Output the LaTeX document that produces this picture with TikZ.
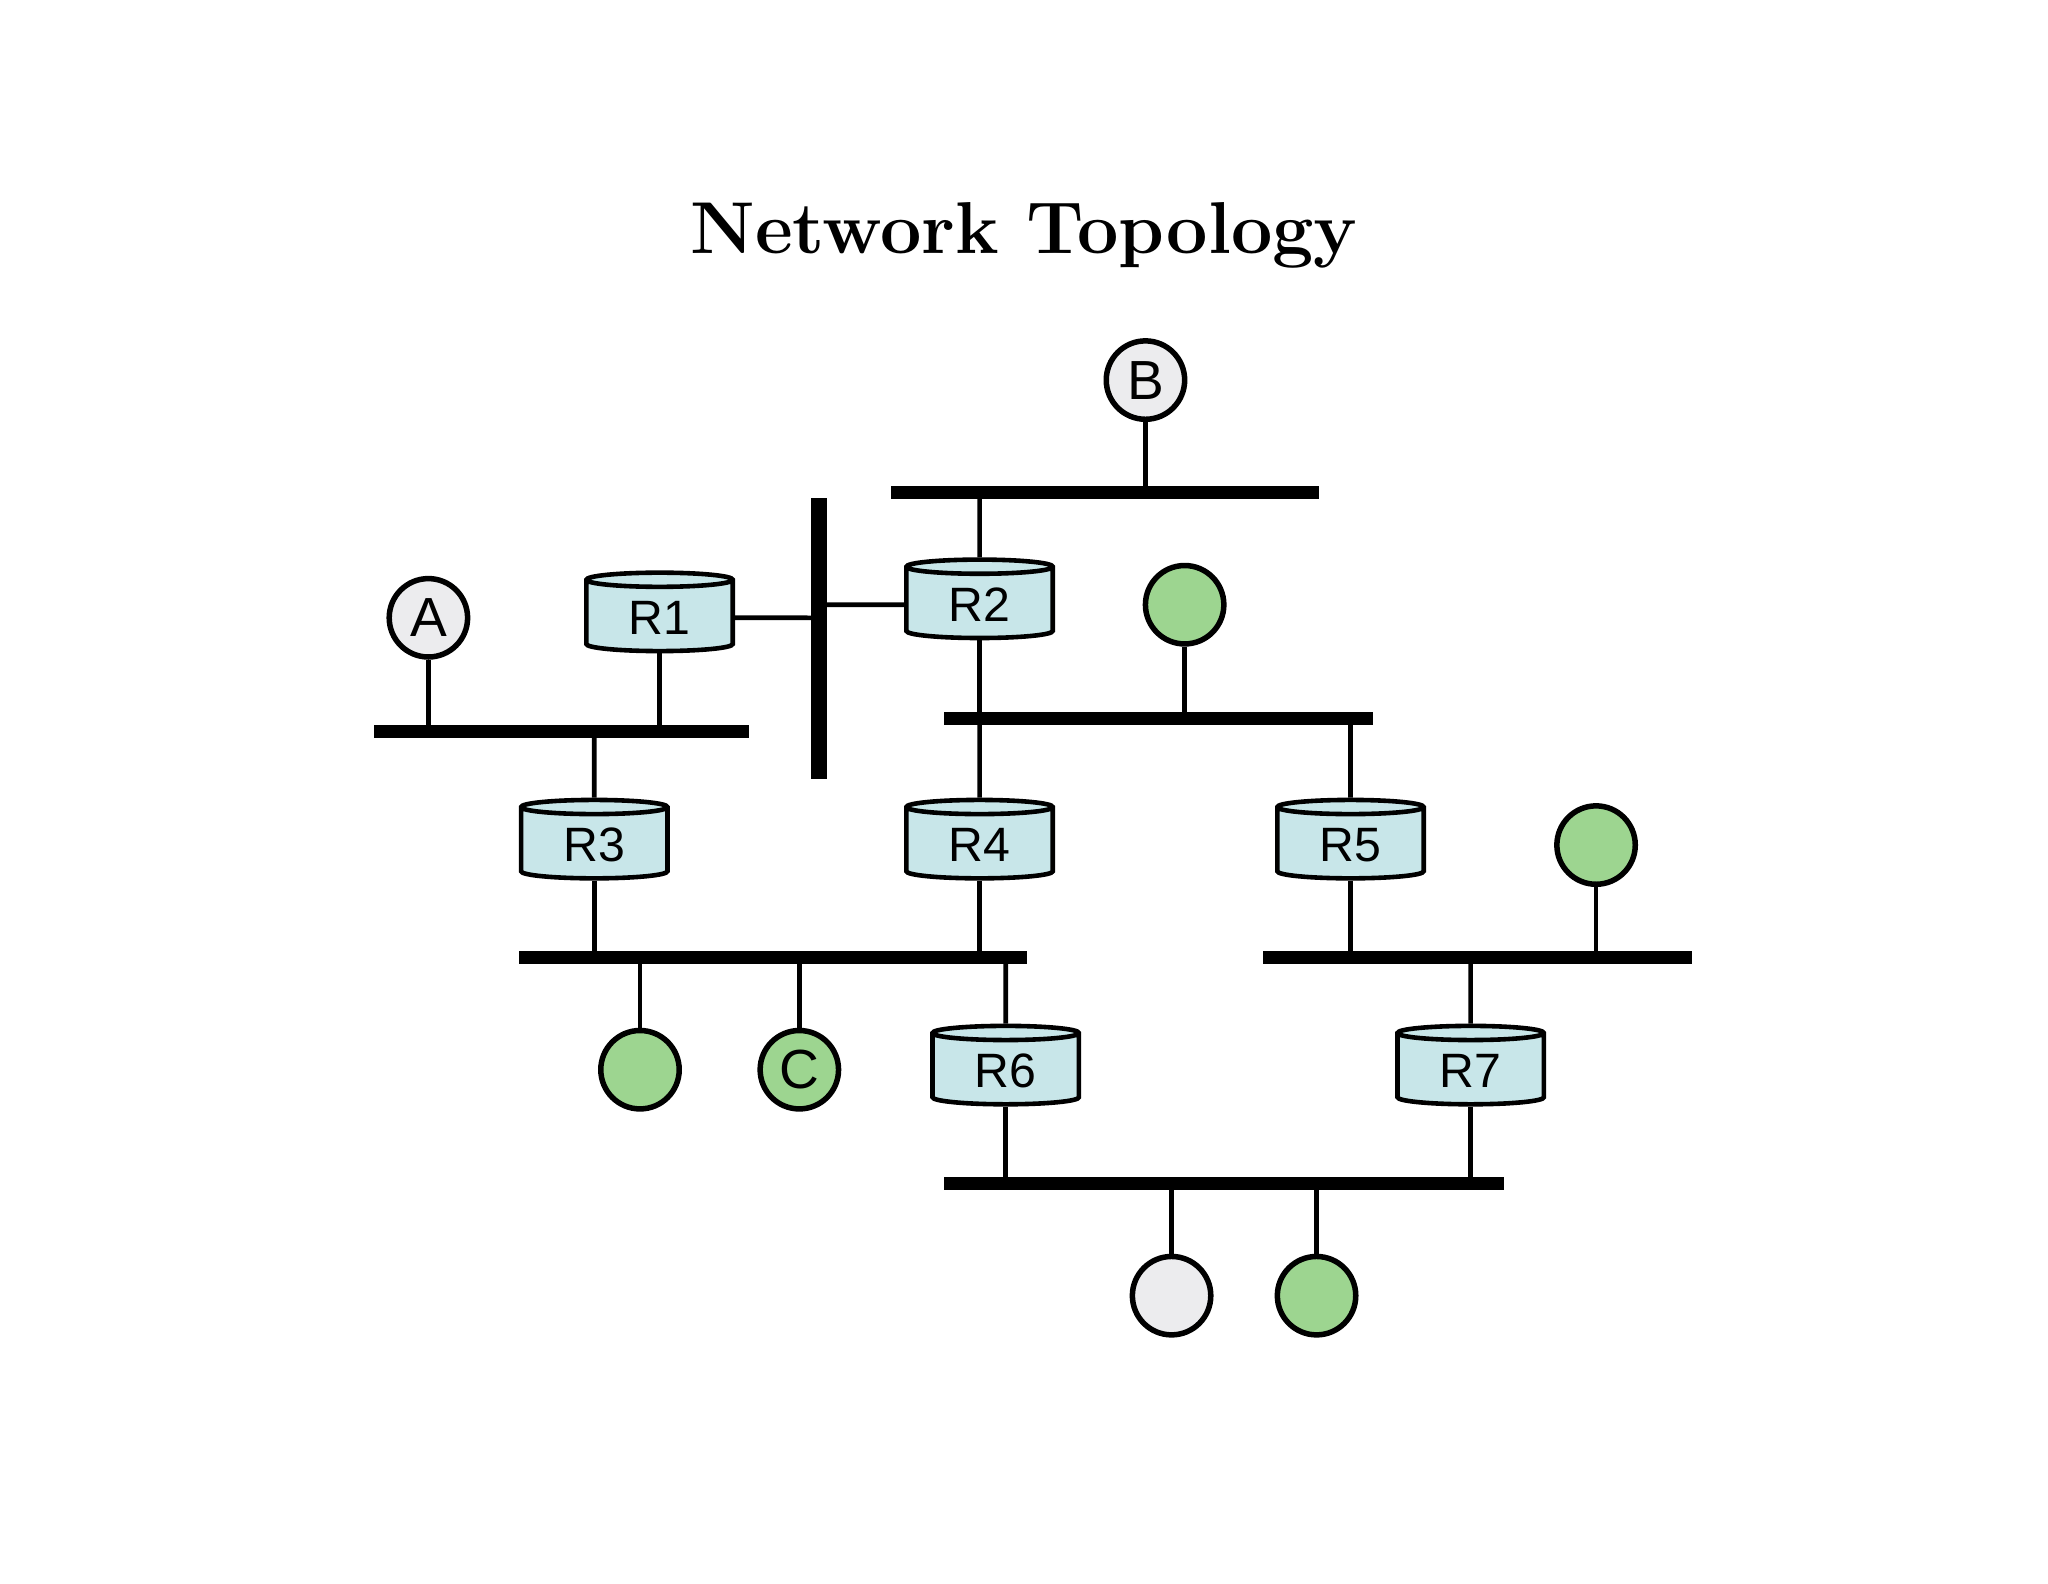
\documentclass[tikz,border=0pt]{standalone}
\usepackage{fontspec}
\newfontfamily\lblfont{Liberation Sans}
\usetikzlibrary{shapes.geometric}
\definecolor{routerfill}{HTML}{C8E6E9}
\definecolor{hostgreen}{HTML}{9DD590}
\definecolor{hostgray}{HTML}{ECECEE}
\begin{document}
\begin{tikzpicture}[x=0.01cm,y=-0.01cm]
        \tikzset{router/.style = {shape=cylinder,shape border rotate=90,draw,fill=routerfill,line width=1pt,aspect=0.2,minimum height=0.6cm,minimum width=1.12cm,inner sep=1pt,font=\lblfont\fontsize{10.5}{12}\selectfont}}
        \tikzset{host/.style = {shape=circle,draw,line width=1.2pt,minimum size=0.6cm,inner sep=0pt,font=\lblfont\fontsize{12}{14}\selectfont}}
        \tikzset{bus/.style = {fill=black,inner sep=0pt,minimum height=0.1cm}}
        \tikzset{link/.style = {line width=1pt}}
        \useasboundingbox (0,0) rectangle (1568,1212);
        \node[font=\fontsize{16}{19}\selectfont\bfseries] (title) at (784,180) {Network Topology};
        % buses
        \node[bus,minimum width=3.27cm] (busB) at (846,377) {};
        \node[fill=black,inner sep=0pt,minimum width=0.12cm,minimum height=2.15cm] (busV) at (627,489) {};
        \node[bus,minimum width=2.87cm] (busA) at (430,560) {};
        \node[bus,minimum width=3.28cm] (busR2) at (887,550) {};
        \node[bus,minimum width=3.89cm] (busR3) at (592,733) {};
        \node[bus,minimum width=3.28cm] (busR5) at (1131,733) {};
        \node[bus,minimum width=4.29cm] (busR6) at (937,906) {};
        % routers
        \node[router] (r1) at (505,473) {R1};
        \node[router] (r2) at (750,463) {R2};
        \node[router] (r3) at (455,647) {R3};
        \node[router] (r4) at (750,647) {R4};
        \node[router] (r5) at (1034,647) {R5};
        \node[router] (r6) at (770,820) {R6};
        \node[router] (r7) at (1126,820) {R7};
        % hosts
        \node[host,fill=hostgray] (a) at (328,473) {A};
        \node[host,fill=hostgray] (b) at (877,291) {B};
        \node[host,fill=hostgreen] (g1) at (907,463) {};
        \node[host,fill=hostgreen] (g2) at (1222,647) {};
        \node[host,fill=hostgreen] (g3) at (490,819) {};
        \node[host,fill=hostgreen] (c) at (612,819) {C};
        \node[host,fill=hostgray] (h1) at (897,992) {};
        \node[host,fill=hostgreen] (g4) at (1008,992) {};
        % links
        \draw[link] (b) -- (b |- busB);
        \draw[link] (r2) -- (r2 |- busB);
        \draw[link] (r1) -- (r1 -| busV);
        \draw[link] (r2) -- (r2 -| busV);
        \draw[link] (a) -- (a |- busA);
        \draw[link] (r1) -- (r1 |- busA);
        \draw[link] (r3) -- (r3 |- busA);
        \draw[link] (r2) -- (r2 |- busR2);
        \draw[link] (g1) -- (g1 |- busR2);
        \draw[link] (r4) -- (r4 |- busR2);
        \draw[link] (r5) -- (r5 |- busR2);
        \draw[link] (r3) -- (r3 |- busR3);
        \draw[link] (r4) -- (r4 |- busR3);
        \draw[link] (g3) -- (g3 |- busR3);
        \draw[link] (c) -- (c |- busR3);
        \draw[link] (r6) -- (r6 |- busR3);
        \draw[link] (r5) -- (r5 |- busR5);
        \draw[link] (g2) -- (g2 |- busR5);
        \draw[link] (r7) -- (r7 |- busR5);
        \draw[link] (r6) -- (r6 |- busR6);
        \draw[link] (r7) -- (r7 |- busR6);
        \draw[link] (h1) -- (h1 |- busR6);
        \draw[link] (g4) -- (g4 |- busR6);
\end{tikzpicture}
\end{document}
